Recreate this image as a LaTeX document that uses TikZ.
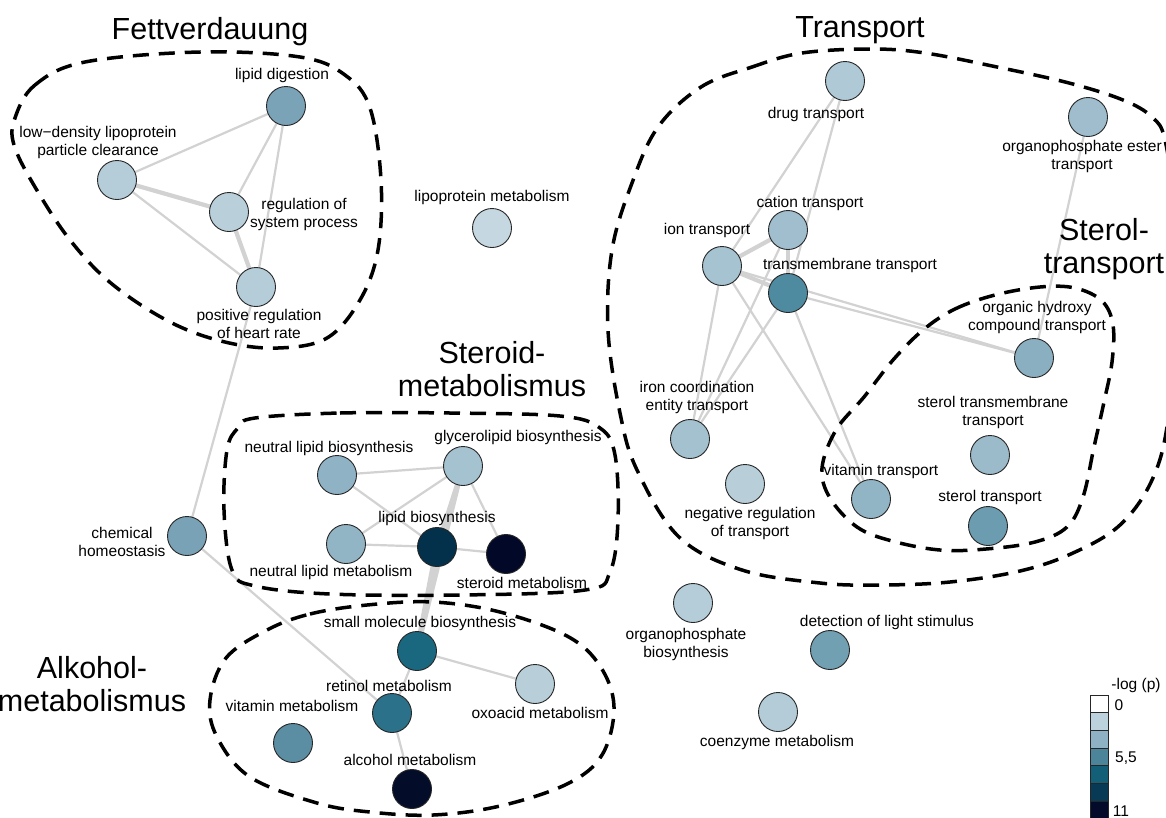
\documentclass[tikz,border=0pt]{standalone}
\usepackage{fontspec}
\setmainfont{Liberation Sans}
\usetikzlibrary{backgrounds}
\definecolor{edgec}{HTML}{D2D2D2}
\definecolor{cA}{HTML}{7BA3B7}
\definecolor{cB}{HTML}{B5CDD9}
\definecolor{cC}{HTML}{B9D0DB}
\definecolor{cD}{HTML}{C5D7E0}
\definecolor{cE}{HTML}{8FB3C5}
\definecolor{cF}{HTML}{A5C2D0}
\definecolor{cG}{HTML}{03304A}
\definecolor{cH}{HTML}{92B5C6}
\definecolor{cI}{HTML}{020828}
\definecolor{cJ}{HTML}{7AA2B6}
\definecolor{cK}{HTML}{1A6880}
\definecolor{cL}{HTML}{B8CFDA}
\definecolor{cM}{HTML}{2B7189}
\definecolor{cN}{HTML}{5B8EA3}
\definecolor{cO}{HTML}{030D2A}
\definecolor{cP}{HTML}{AFC9D6}
\definecolor{cQ}{HTML}{9FBDCC}
\definecolor{cR}{HTML}{A0BECD}
\definecolor{cS}{HTML}{A6C3D1}
\definecolor{cT}{HTML}{4E8AA0}
\definecolor{cU}{HTML}{8AAFC1}
\definecolor{cV}{HTML}{A3C1CF}
\definecolor{cW}{HTML}{9BBBCA}
\definecolor{cX}{HTML}{6C9CB0}
\definecolor{cY}{HTML}{72A0B3}
\definecolor{cZ}{HTML}{B3CCD8}
\definecolor{lg1}{HTML}{FFFFFF}
\definecolor{lg2}{HTML}{BCD2DD}
\definecolor{lg3}{HTML}{8EB1C3}
\definecolor{lg4}{HTML}{4C8499}
\definecolor{lg5}{HTML}{135F77}
\definecolor{lg6}{HTML}{083A55}
\definecolor{lg7}{HTML}{040A2A}
\begin{document}
\begin{tikzpicture}[x=1pt,y=-1pt,
  gn/.style={circle, draw=black!85, line width=0.9pt, minimum size=39pt, inner sep=0pt},
  lbl/.style={font=\fontsize{15.5}{18}\selectfont, align=center, inner sep=0pt},
  ttl/.style={font=\fontsize{30.5}{33}\selectfont, align=center, inner sep=0pt},
  lnk/.style={draw=edgec, line width=2.2pt},
  lnkt/.style={draw=edgec, line width=4.2pt},
  lnkv/.style={draw=edgec, line width=5.5pt},
  hull/.style={draw=black, line width=3.5pt, dash pattern=on 16pt off 10pt},
  legbox/.style={draw=black!85, line width=0.8pt}
]
\useasboundingbox (0,0) rectangle (1166,817);
\clip (0,0) rectangle (1166,817);

% nodes
\node[gn, fill=cA] (ld) at (286,106) {};
\node[gn, fill=cB] (ldl) at (117,180) {};
\node[gn, fill=cC] (rsp) at (229,212) {};
\node[gn, fill=cB] (prh) at (256,287) {};
\node[gn, fill=cD] (lpm) at (492,228) {};
\node[gn, fill=cE] (nlb) at (337,475) {};
\node[gn, fill=cF] (glb) at (463,466) {};
\node[gn, fill=cG] (lb) at (437,547) {};
\node[gn, fill=cH] (nlm) at (346,544) {};
\node[gn, fill=cI] (sm) at (506,554) {};
\node[gn, fill=cJ] (ch) at (187,536) {};
\node[gn, fill=cK] (smb) at (417,651) {};
\node[gn, fill=cL] (oxo) at (535,684) {};
\node[gn, fill=cM] (ret) at (392,713) {};
\node[gn, fill=cN] (vm) at (293,743) {};
\node[gn, fill=cO] (alc) at (412,789) {};
\node[gn, fill=cP] (dt) at (845,81) {};
\node[gn, fill=cQ] (oet) at (1088,117) {};
\node[gn, fill=cR] (ct) at (788,230) {};
\node[gn, fill=cS] (it) at (722,266) {};
\node[gn, fill=cT] (tmt) at (788,293) {};
\node[gn, fill=cU] (oh) at (1034,358) {};
\node[gn, fill=cV] (ic) at (690,439) {};
\node[gn, fill=cL] (nrt) at (745,484) {};
\node[gn, fill=cW] (stt) at (990,455) {};
\node[gn, fill=cH] (vt) at (871,499) {};
\node[gn, fill=cX] (st) at (988,526) {};
\node[gn, fill=cB] (ob) at (693,603) {};
\node[gn, fill=cY] (dls) at (830,650) {};
\node[gn, fill=cZ] (cm) at (778,712) {};

% edges
\begin{pgfonlayer}{background}
\fill[white] (0,0) rectangle (1166,817);
\draw[lnk] (ld.center) -- (ldl.center);
\draw[lnk] (ld.center) -- (rsp.center);
\draw[lnk] (ld.center) -- (prh.center);
\draw[lnkt] (ldl.center) -- (rsp.center);
\draw[lnk] (ldl.center) -- (prh.center);
\draw[lnkt] (rsp.center) -- (prh.center);
\draw[lnk] (prh.center) -- (ch.center);
\draw[lnk] (ch.center) -- (ret.center);
\draw[lnk] (nlb.center) -- (glb.center);
\draw[lnk] (nlb.center) -- (lb.center);
\draw[lnk] (glb.center) -- (nlm.center);
\draw[lnkt] (glb.center) -- (lb.center);
\draw[lnk] (glb.center) -- (sm.center);
\draw[lnk] (nlm.center) -- (lb.center);
\draw[lnk] (lb.center) -- (sm.center);
\draw[lnkv] (lb.center) -- (smb.center);
\draw[lnkt] (glb.center) -- (smb.center);
\draw[lnk] (smb.center) -- (oxo.center);
\draw[lnk] (smb.center) -- (ret.center);
\draw[lnk] (ret.center) -- (alc.center);
\draw[lnk] (dt.center) -- (it.center);
\draw[lnk] (dt.center) -- (tmt.center);
\draw[lnkt] (ct.center) -- (it.center);
\draw[lnkt] (it.center) -- (tmt.center);
\draw[lnkt] (ct.center) -- (tmt.center);
\draw[lnk] (it.center) -- (oh.center);
\draw[lnk] (tmt.center) -- (oh.center);
\draw[lnk] (it.center) -- (ic.center);
\draw[lnk] (it.center) -- (vt.center);
\draw[lnk] (tmt.center) -- (vt.center);
\draw[lnk] (tmt.center) -- (ic.center);
\draw[lnk] (ct.center) -- (ic.center);
\draw[lnk] (oet.center) -- (oh.center);
\end{pgfonlayer}

% labels
\node[lbl] (ldL) at (282,75) {lipid digestion};
\node[lbl] (ldlL) at (98,142.5) {low−density lipoprotein\\particle clearance};
\node[lbl] (rspL) at (304,214) {regulation of\\system process};
\node[lbl] (prhL) at (259,324) {positive regulation\\of heart rate};
\node[lbl] (lpmL) at (492,197) {lipoprotein metabolism};
\node[lbl] (nlbL) at (329,448) {neutral lipid biosynthesis};
\node[lbl] (glbL) at (518,437) {glycerolipid biosynthesis};
\node[lbl] (lbL) at (437,518) {lipid biosynthesis};
\node[lbl] (nlmL) at (331,572) {neutral lipid metabolism};
\node[lbl] (smL) at (522,583) {steroid metabolism};
\node[lbl] (chL) at (122,541.5) {chemical\\homeostasis};
\node[lbl] (smbL) at (420,623) {small molecule biosynthesis};
\node[lbl] (oxoL) at (540,713) {oxoacid metabolism};
\node[lbl] (retL) at (389,686) {retinol metabolism};
\node[lbl] (vmL) at (292,706) {vitamin metabolism};
\node[lbl] (alcL) at (410,760) {alcohol metabolism};
\node[lbl] (dtL) at (816,114) {drug transport};
\node[lbl] (oetL) at (1082,156.5) {organophosphate ester\\transport};
\node[lbl] (ctL) at (810,203) {cation transport};
\node[lbl] (itL) at (707,230) {ion transport};
\node[lbl] (tmtL) at (850,265) {transmembrane transport};
\node[lbl] (ohL) at (1037,317.5) {organic hydroxy\\compound transport};
\node[lbl] (icL) at (697,397.5) {iron coordination\\entity transport};
\node[lbl] (nrtL) at (750,523) {negative regulation\\of transport};
\node[lbl] (sttL) at (993,412) {sterol transmembrane\\transport};
\node[lbl] (vtL) at (881,471) {vitamin transport};
\node[lbl] (stL) at (990,497) {sterol transport};
\node[lbl] (obL) at (686,644) {organophosphate\\biosynthesis};
\node[lbl] (dlsL) at (887,622) {detection of light stimulus};
\node[lbl] (cmL) at (777,742) {coenzyme metabolism};

% hulls
\draw[hull] plot[smooth cycle, tension=0.6] coordinates {(15,118) (35,85) (85,62) (200,52) (300,57) (345,75) (370,108) (381,180) (378,250) (360,300) (327,338) (278,348) (225,342) (170,322) (112,284) (70,240) (35,187) (14,145)};
\draw[hull] plot[smooth cycle, tension=0.6] coordinates {(255,418) (340,413) (450,413) (560,416) (600,428) (615,455) (618,520) (610,572) (585,590) (460,595) (330,594) (255,586) (232,570) (224,510) (227,450) (238,428)};
\draw[hull] plot[smooth cycle, tension=0.6] coordinates {(267,630) (310,614) (367,605) (433,602) (500,612) (567,636) (600,666) (614,707) (602,755) (567,784) (500,806) (433,815) (370,812) (317,803) (250,777) (217,737) (210,700) (226,658)};
\draw[hull] plot[smooth cycle, tension=0.6] coordinates {(701,87) (752,67) (802,53) (871,49) (925,53) (997,67) (1069,83) (1123,100) (1152,117) (1165,140) (1174,210) (1176,310) (1168,420) (1152,480) (1120,525) (1073,553) (1020,571) (950,582) (880,585) (820,583) (742,570) (679,537) (637,470) (620,413) (608,330) (612,250) (632,183) (658,127)};
\draw[hull] plot[smooth cycle, tension=0.6] coordinates {(923,330) (955,309) (995,295) (1040,287) (1075,288) (1102,301) (1113,325) (1112,362) (1104,402) (1094,447) (1083,497) (1067,527) (1035,542) (986,549) (940,550) (892,541) (857,527) (830,498) (822,468) (836,430) (864,397) (893,360)};

% titles
\node[ttl] (t1) at (210,32) {Fettverdauung};
\node[ttl] (t2) at (860,30) {Transport};
\node[ttl] (t3) at (1104,249.5) {Sterol-\\transport};
\node[ttl] (t4) at (492,369) {Steroid-\\metabolismus};
\node[ttl] (t5) at (92,684) {Alkohol-\\metabolismus};

% legend
\node[lbl] (legT) at (1136,685) {-log (p)};
\foreach \c [count=\i from 0] in {lg1,lg2,lg3,lg4,lg5,lg6,lg7} {
  \draw[legbox, fill=\c] (1090,695+17.7*\i) rectangle (1108,712.7+17.7*\i);
}
\node[lbl] (leg0) at (1119,705) {0};
\node[lbl] (leg1) at (1126,758) {5,5};
\node[lbl] (leg2) at (1121,811) {11};
\end{tikzpicture}
\end{document}
